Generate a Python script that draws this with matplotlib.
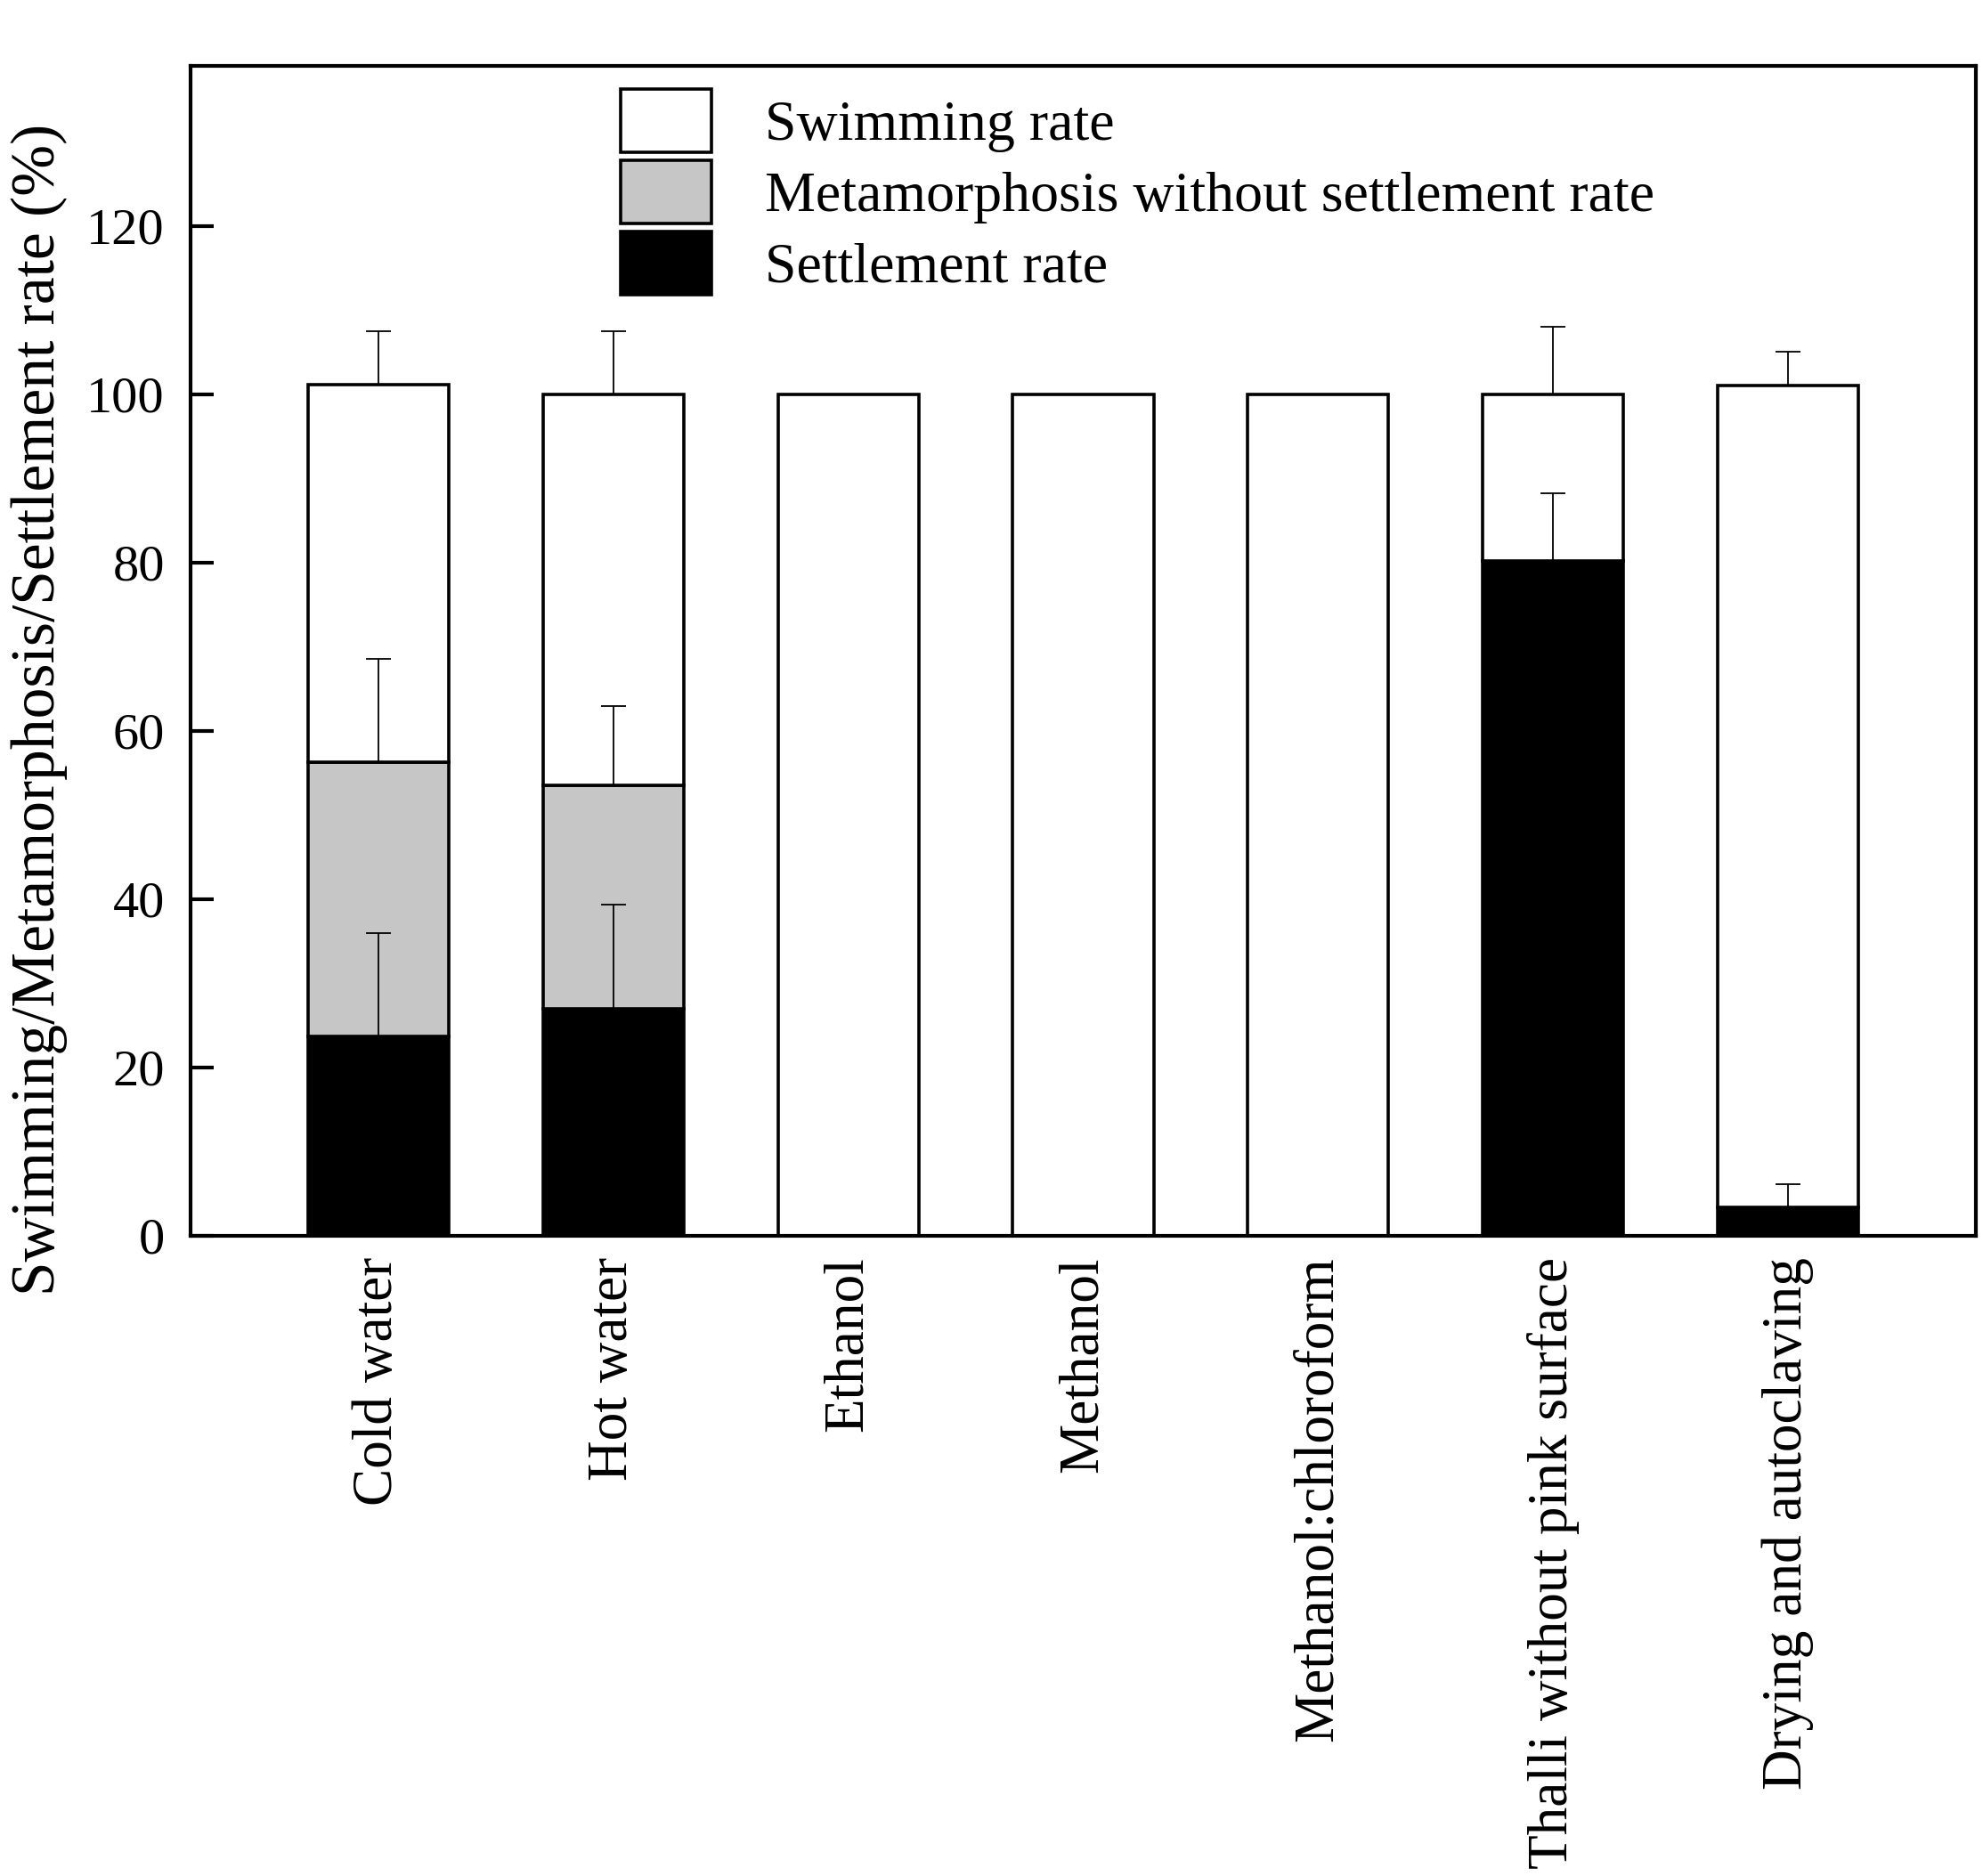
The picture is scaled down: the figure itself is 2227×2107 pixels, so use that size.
import matplotlib
matplotlib.use('Agg')
import matplotlib.pyplot as plt
import numpy as np

plt.rcParams['font.family'] = ['Liberation Serif', 'DejaVu Serif']

categories = ['Cold water', 'Hot water', 'Ethanol', 'Methanol',
              'Methanol:chloroform', 'Thalli without pink surface',
              'Drying and autoclaving']
settlement = [23.7, 27.0, 0, 0, 0, 80.2, 3.4]
metamorphosis = [32.6, 26.5, 0, 0, 0, 0, 0]
swimming = [44.8, 46.5, 100, 100, 100, 19.8, 97.6]
settlement_err = [12.3, 12.4, 0, 0, 0, 8.0, 2.7]
metamorphosis_err = [12.3, 9.4, 0, 0, 0, 0, 0]
swimming_err = [6.4, 7.5, 0, 0, 0, 8.0, 4.0]

W, H = 2227, 2107
fig = plt.figure(figsize=(W / 100, H / 100), dpi=100)
ax = fig.add_axes([214 / W, 1 - 1388 / H, (2219 - 214) / W, (1388 - 74) / H])

x = np.arange(len(categories))
s = np.array(settlement)
m = np.array(metamorphosis)
w = np.array(swimming)
bw = 0.6
elw = 2.6

b1 = ax.bar(x, s, bw, color='black', edgecolor='black', linewidth=elw, zorder=2,
            label='Settlement rate')
b2 = ax.bar(x, m, bw, bottom=s, color='#c6c6c6', edgecolor='black', linewidth=elw,
            zorder=2, label='Metamorphosis without settlement rate')
b3 = ax.bar(x, w, bw, bottom=s + m, color='white', edgecolor='black', linewidth=elw,
            zorder=2, label='Swimming rate')

def draw_err(tops, errs):
    tops = np.array(tops)
    errs = np.array(errs)
    idx = errs > 0
    ax.errorbar(x[idx], tops[idx], yerr=[np.zeros(idx.sum()), errs[idx]],
                fmt='none', ecolor='black', elinewidth=1.3, capsize=10,
                capthick=1.3, zorder=3)

draw_err(s, settlement_err)
draw_err(s + m, metamorphosis_err)
draw_err(s + m + w, swimming_err)

ax.set_xlim(-0.8, 6.8)
ax.set_ylim(0, 139)
ax.set_yticks([0, 20, 40, 60, 80, 100, 120])
ax.set_xticks(x)
ax.set_xticklabels(categories, rotation=90, fontsize=45.5)
ax.tick_params(axis='x', length=0, pad=17)
ax.tick_params(axis='y', direction='in', length=19, width=3, labelsize=42, pad=21)
for sp in ax.spines.values():
    sp.set_linewidth(3)

ax.set_ylabel('Swimming/Metamorphosis/Settlement rate (%)', fontsize=50)
ax.yaxis.set_label_coords((76 - 214) / (2219 - 214), (1388 - 797) / (1388 - 74))

leg = ax.legend(handles=[b3, b2, b1], loc='upper left',
                bbox_to_anchor=(697 / W, 1 - 100 / H), bbox_transform=fig.transFigure,
                frameon=False, fontsize=46, borderpad=0, borderaxespad=0,
                handlelength=1.6, handleheight=1.33, labelspacing=0.14,
                handletextpad=0.94)

fig.savefig('out.png', dpi=100)
